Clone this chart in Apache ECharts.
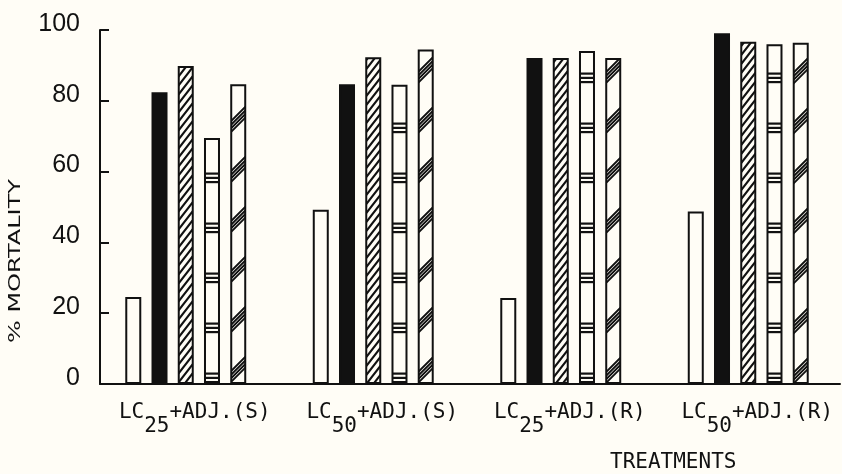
<!DOCTYPE html>
<html><head><meta charset="utf-8">
<script src="https://cdn.jsdelivr.net/npm/echarts@6/dist/echarts.min.js"></script>
<style>html,body{margin:0;padding:0;background:#fffdf6}#c{width:842px;height:474px}</style>
</head><body><div id="c"></div>
<script>
// ---- data ----
const categories = ['LC25+ADJ.(S)', 'LC50+ADJ.(S)', 'LC25+ADJ.(R)', 'LC50+ADJ.(R)'];
const openBars   = [24.6, 49.2, 24.3, 48.7];
const solidBars  = [82.4, 84.7, 92.1, 99.1];
const hatchBars  = [89.8, 92.3, 92.1, 96.7];
const bandedBars = [69.5, 84.5, 94.1, 96.0];
const slashBars  = [84.7, 94.5, 92.1, 96.4];
const yTicks     = [0, 20, 40, 60, 80, 100];
const yTitle = '% MORTALITY';
const xTitle = 'TREATMENTS';

// ---- layout / style ----
const BG = '#fffdf6', INK = '#111';
const GRID_LEFT = 92, GRID_W = 752, GRID_TOP = 30, GRID_H = 354;
const BAND = GRID_W / categories.length;

function tile(w, h, draw) {
  const c = document.createElement('canvas');
  c.width = w; c.height = h;
  const g = c.getContext('2d');
  g.fillStyle = BG; g.fillRect(0, 0, w, h);
  g.fillStyle = INK; g.strokeStyle = INK;
  draw(g);
  return c;
}
// dense diagonal hatch
const hatchTile = tile(7, 9, g => {
  const k = 9 / 7;
  g.lineWidth = 2.1;
  g.beginPath();
  [0, 9, 18].forEach(c => { g.moveTo(-2, c + 2 * k); g.lineTo(9, c - 9 * k); });
  g.stroke();
});
// groups of horizontal lines
const bandTile = tile(4, 50, g => {
  [22.5, 26.8, 31].forEach(y => g.fillRect(0, y, 4, 2.2));
});
// groups of diagonal lines
const slashTile = tile(50, 50, g => {
  g.lineWidth = 1.9;
  g.beginPath();
  [13, 9.4, 5.8, 2.2].forEach(c0 => {
    for (let m = -1; m <= 2; m++) {
      const c = c0 + 50 * m;
      g.moveTo(-2, c + 2); g.lineTo(52, c - 52);
    }
  });
  g.stroke();
});

const base = {
  type: 'bar', barWidth: 16, barGap: '64%', silent: true,
  xAxisIndex: 0, yAxisIndex: 0
};
const border = { borderColor: INK, borderWidth: 2 };

const chart = echarts.init(document.getElementById('c'), null, { renderer: 'canvas' });
chart.setOption({
  backgroundColor: BG,
  animation: false,
  grid: [
    { left: GRID_LEFT, top: GRID_TOP, width: GRID_W, height: GRID_H },
    { left: 100, top: GRID_TOP, width: 740, height: GRID_H }
  ],
  xAxis: [
    {
      type: 'category', gridIndex: 0, data: categories,
      axisLine: { show: false }, axisTick: { show: false },
      axisLabel: {
        margin: 18, padding: [0, 0, 0, 18],
        formatter: v => {
          const m = v.match(/^LC(\d+)(.*)$/);
          return '{a|LC}{b|' + m[1] + '}{a|' + m[2] + '}';
        },
        rich: {
          a: { fontFamily: 'DejaVu Sans Mono', fontSize: 21, color: INK, verticalAlign: 'top' },
          b: { fontFamily: 'DejaVu Sans Mono', fontSize: 21, color: INK, verticalAlign: 'top', padding: [14, 0, 0, 0] }
        }
      }
    },
    {
      type: 'value', gridIndex: 1, min: 0, max: 1,
      axisLine: { show: true, lineStyle: { color: INK, width: 2 } },
      axisTick: { show: false }, axisLabel: { show: false }, splitLine: { show: false }
    }
  ],
  yAxis: [
    { type: 'value', gridIndex: 0, min: yTicks[0], max: yTicks[yTicks.length - 1], show: false },
    {
      type: 'value', gridIndex: 1,
      min: yTicks[0], max: yTicks[yTicks.length - 1], interval: yTicks[1] - yTicks[0],
      axisLine: { show: true, lineStyle: { color: INK, width: 2 } },
      axisTick: { show: true, inside: true, length: 9, lineStyle: { color: INK, width: 2 } },
      axisLabel: {
        margin: 20, color: INK, fontSize: 25, verticalAlign: 'bottom', lineHeight: 12,
        fontFamily: "'Liberation Sans', sans-serif"
      },
      splitLine: { show: false }
    }
  ],
  series: [
    Object.assign({}, base, { data: openBars, itemStyle: Object.assign({ color: BG }, border) }),
    Object.assign({}, base, { data: solidBars, itemStyle: Object.assign({ color: INK }, border) }),
    Object.assign({}, base, { data: hatchBars, itemStyle: Object.assign({ color: { image: hatchTile, repeat: 'repeat' } }, border) }),
    Object.assign({}, base, { data: bandedBars, itemStyle: Object.assign({ color: { image: bandTile, repeat: 'repeat' } }, border) }),
    Object.assign({}, base, {
      data: slashBars.map((v, i) => ({ value: v, itemStyle: { color: { image: slashTile, repeat: 'repeat', x: i * BAND } } })),
      itemStyle: border
    })
  ],
  graphic: [
    {
      type: 'text', x: 16, y: 261, rotation: Math.PI / 2, scaleX: 1.6, silent: true,
      style: { text: yTitle, fill: INK, font: "15px 'DejaVu Sans'", textAlign: 'center', textVerticalAlign: 'middle' }
    },
    {
      type: 'text', left: 610, top: 452, silent: true,
      style: { text: xTitle, fill: INK, font: "21px 'DejaVu Sans Mono'" }
    }
  ]
});
</script>
</body></html>
